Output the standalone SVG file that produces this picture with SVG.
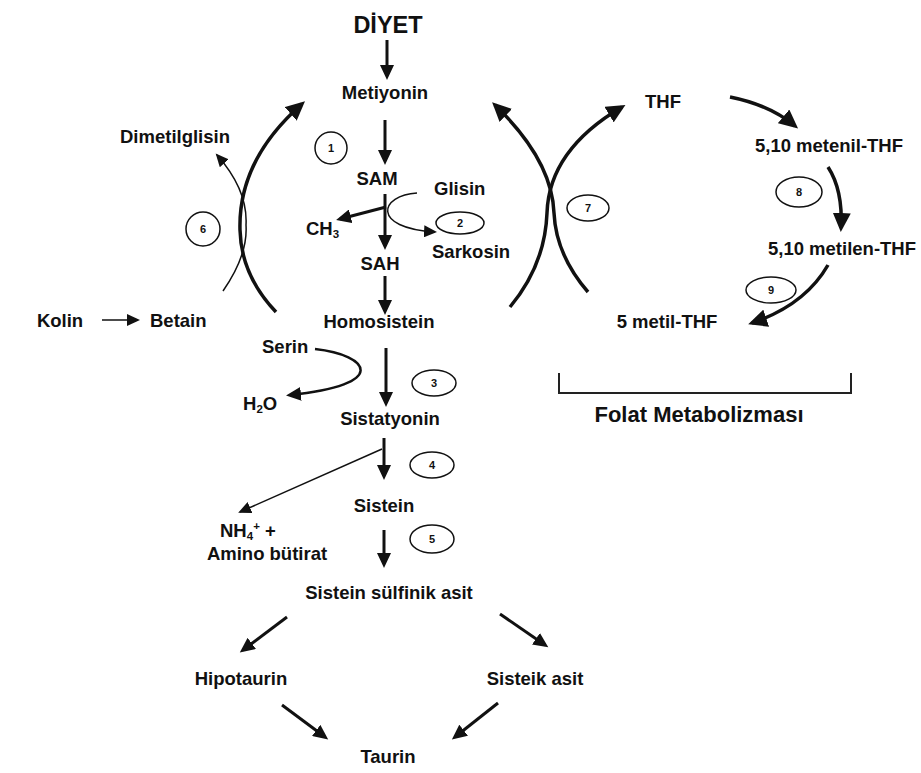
<svg xmlns="http://www.w3.org/2000/svg" width="921" height="773" viewBox="0 0 921 773">
<style>
text{font-family:"Liberation Sans",Arial,sans-serif;font-weight:bold;fill:#111;font-size:18.5px}
.c{text-anchor:middle}
.n{font-size:11px;text-anchor:middle}
.en{fill:none;stroke:#111;stroke-width:1.5}
.k{fill:none;stroke:#111;stroke-width:3;marker-end:url(#m)}
.kb{fill:none;stroke:#111;stroke-width:3.5;marker-end:url(#b)}
.t{fill:none;stroke:#111;stroke-width:1.5;marker-end:url(#s)}
</style>
<defs>
<marker id="m" markerUnits="userSpaceOnUse" markerWidth="16" markerHeight="14" refX="11" refY="7" orient="auto"><path d="M0,0 L15,7 L0,14 z" fill="#111"/></marker>
<marker id="b" markerUnits="userSpaceOnUse" markerWidth="20" markerHeight="18" refX="15" refY="9" orient="auto"><path d="M0,0 L19,9 L0,18 z" fill="#111"/></marker>
<marker id="s" markerUnits="userSpaceOnUse" markerWidth="14" markerHeight="12" refX="11" refY="6" orient="auto"><path d="M0,0 L13,6 L0,12 z" fill="#111"/></marker>
</defs>
<rect width="921" height="773" fill="#fff"/>
<g id="connectors">
<path class="k" d="M387,40 L387,76"/>
<path class="k" d="M385,120 L385,161"/>
<path class="k" d="M385,194 L385,246"/>
<path class="k" d="M386,207 L340,219"/>
<path class="t" d="M417,193 C380,195 370,228 435,232"/>
<path class="k" d="M385,276 L385,311"/>
<path class="k" d="M386,348 L386,403"/>
<path class="k" style="stroke-width:2.5" d="M315,349 C370,355 390,385 290,395"/>
<path class="k" d="M384,438 L384,476"/>
<path class="t" d="M382,449 L240,512"/>
<path class="k" d="M384,530 L384,564"/>
<path class="k" d="M287,617 L243,650"/>
<path class="k" d="M500,614 L545,645"/>
<path class="k" d="M282,705 L325,737"/>
<path class="k" d="M498,703 L455,737"/>
<path class="t" d="M102,320 L138,320"/>
<path class="t" d="M223,291 Q248,255 246,225 Q248,190 217,155"/>
<path class="kb" d="M276,312 Q241,275 240,230 Q238,160 302,104"/>
<path class="kb" d="M588,292 Q556,255 554,213 Q552,160 495,105"/>
<path class="kb" d="M510,307 Q545,265 547,213 Q549,150 622,107"/>
<path class="kb" d="M730,97 Q770,105 795,126"/>
<path class="kb" d="M828,167 Q843,190 841,228"/>
<path class="kb" d="M828,265 Q805,305 752,323"/>
<path fill="none" stroke="#222" stroke-width="2" d="M559,373 L559,393 L851,393 L851,373"/>
</g>
<g id="e1"><circle class="en" cx="331" cy="148" r="16"/><text class="n" x="331" y="152">1</text></g>
<g id="e2"><ellipse class="en" cx="460" cy="223" rx="24" ry="11"/><text class="n" x="460" y="227">2</text></g>
<g id="e3"><ellipse class="en" cx="434" cy="383" rx="22" ry="13"/><text class="n" x="434" y="387">3</text></g>
<g id="e4"><ellipse class="en" cx="432" cy="465" rx="22" ry="13"/><text class="n" x="432" y="469">4</text></g>
<g id="e5"><ellipse class="en" cx="432" cy="539" rx="22" ry="14"/><text class="n" x="432" y="543">5</text></g>
<g id="e6"><circle class="en" cx="203" cy="229" r="17"/><text class="n" x="203" y="233">6</text></g>
<g id="e7"><ellipse class="en" cx="588" cy="208" rx="21" ry="13"/><text class="n" x="588" y="212">7</text></g>
<g id="e8"><ellipse class="en" cx="799" cy="192" rx="23" ry="15"/><text class="n" x="799" y="196">8</text></g>
<g id="e9"><ellipse class="en" cx="771" cy="290" rx="25" ry="13"/><text class="n" x="771" y="294">9</text></g>
<g id="diyet"><text class="c" x="388" y="33" style="font-size:23.5px">DİYET</text></g>
<g id="metiyonin"><text class="c" x="385" y="99">Metiyonin</text></g>
<g id="sam"><text class="c" x="377" y="185">SAM</text></g>
<g id="glisin"><text x="434" y="195">Glisin</text></g>
<g id="ch3"><text x="306" y="235">CH<tspan style="font-size:11.5px" dy="3">3</tspan></text></g>
<g id="sarkosin"><text x="432" y="258">Sarkosin</text></g>
<g id="sah"><text class="c" x="380" y="270">SAH</text></g>
<g id="homosistein"><text class="c" x="379" y="328">Homosistein</text></g>
<g id="kolin"><text class="c" x="60" y="327">Kolin</text></g>
<g id="betain"><text x="150" y="327">Betain</text></g>
<g id="dimetilglisin"><text x="120" y="143">Dimetilglisin</text></g>
<g id="thf"><text x="645" y="108">THF</text></g>
<g id="metenil"><text class="c" x="829" y="152">5,10 metenil-THF</text></g>
<g id="metilen"><text class="c" x="842" y="255">5,10 metilen-THF</text></g>
<g id="metil"><text class="c" x="667" y="328">5 metil-THF</text></g>
<g id="folat"><text class="c" x="699" y="422" style="font-size:22px">Folat Metabolizması</text></g>
<g id="serin"><text x="262" y="353">Serin</text></g>
<g id="h2o"><text x="243" y="410">H<tspan style="font-size:11.5px" dy="3">2</tspan><tspan dy="-3">O</tspan></text></g>
<g id="sistatyonin"><text class="c" x="390" y="425">Sistatyonin</text></g>
<g id="sistein"><text class="c" x="384" y="512">Sistein</text></g>
<g id="nh4"><text x="220" y="537">NH<tspan style="font-size:11.5px" dy="3">4</tspan><tspan style="font-size:11.5px" dy="-10">+</tspan><tspan dy="7"> +</tspan></text><text class="c" x="267" y="560">Amino bütirat</text></g>
<g id="ssa"><text class="c" x="389" y="599">Sistein sülfinik asit</text></g>
<g id="hipotaurin"><text class="c" x="241" y="685">Hipotaurin</text></g>
<g id="sisteik"><text class="c" x="535" y="685">Sisteik asit</text></g>
<g id="taurin"><text class="c" x="388" y="763">Taurin</text></g>
</svg>
